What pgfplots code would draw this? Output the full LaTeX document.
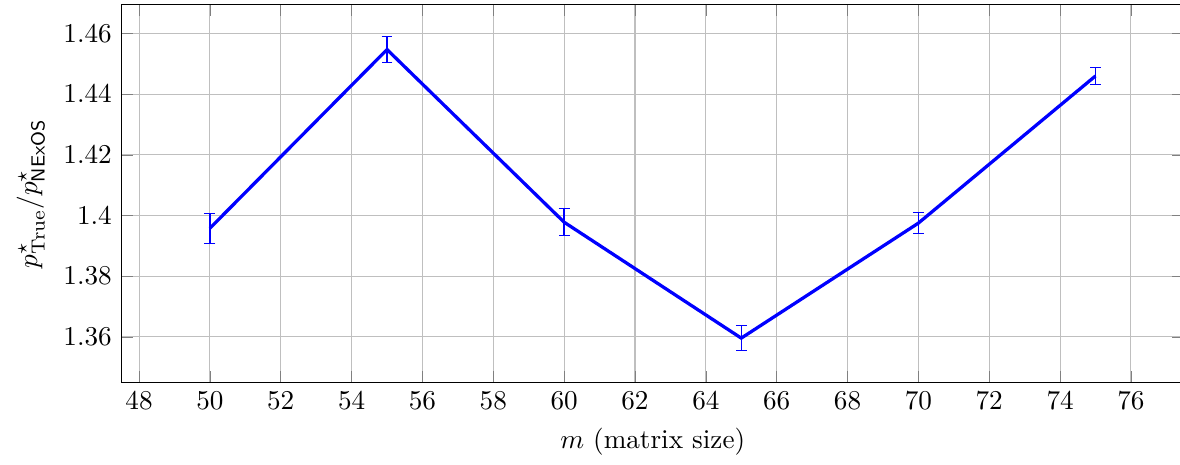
\documentclass[border=0pt]{standalone}
\usepackage{pgfplots}
\pgfplotsset{compat=1.18}
\begin{document}
\begin{tikzpicture}
\begin{scope}
\clip (-100pt,-100pt) rectangle (389.5pt,140.7pt);
\begin{axis}[name=ax,
  at={(0pt,0pt)}, anchor=south west,
  scale only axis,
  width=391pt, height=139pt,
  xmin=47.5, xmax=77.5,
  ymin=1.345, ymax=1.4695,
  xtick={48,50,...,76},
  ytick={1.36,1.38,1.40,1.42,1.44,1.46},
  grid=major,
  xlabel={$m$ (matrix size)},
  ylabel={$p^\star_{\mathrm{True}}/p^\star_{\mathsf{NExOS}}$},
]
\addplot[blue, very thick, no marks,
  error bars/.cd, y dir=both, y explicit,
  error bar style={blue, line width=0.5pt}]
  coordinates {
  (50,1.3958) +- (0,0.0050)
  (55,1.4547) +- (0,0.0042)
  (60,1.3978) +- (0,0.0044)
  (65,1.3596) +- (0,0.0041)
  (70,1.3975) +- (0,0.0035)
  (75,1.4460) +- (0,0.0028)
  };
\end{axis}
\end{scope}
\pgfresetboundingbox
\useasboundingbox ([xshift=-2.8pt]ax.outer south west) rectangle (389.5pt,140.7pt);
\end{tikzpicture}
\end{document}
